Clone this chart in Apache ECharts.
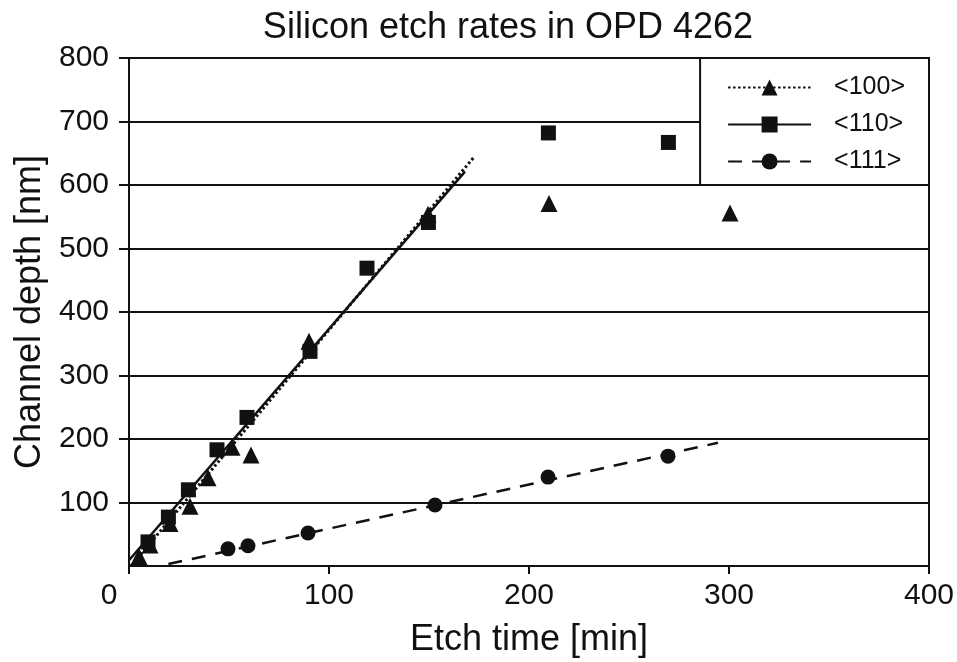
<!DOCTYPE html>
<html>
<head>
<meta charset="utf-8">
<script src="https://cdn.jsdelivr.net/npm/echarts@6/dist/echarts.min.js"></script>
<style>
html,body{margin:0;padding:0;background:#fff;}
#chart{width:957px;height:662px;}
</style>
</head>
<body>
<div id="chart"></div>
<script>
// ---- data ----
var seriesNames = ['<100>', '<110>', '<111>'];
var xTicks = [0, 100, 200, 300, 400];
var yTicks = [0, 100, 200, 300, 400, 500, 600, 700, 800];

var pts100 = [[5, 15], [10.5, 33], [20.5, 67], [30.5, 94], [39.5, 139], [51.5, 187], [61, 175], [90, 354], [149.5, 554], [210, 571], [300.5, 556]];
var pts110 = [[9.5, 38], [19.7, 77], [29.7, 120], [44, 183], [59, 234], [90.5, 338], [119, 469], [149.7, 541], [209.7, 682], [269.7, 667]];
var pts111 = [[49.5, 27], [59.5, 32], [89.5, 52], [153, 96], [209.5, 140], [269.5, 173]];

var fit100 = [[1, 0], [172.5, 644]];
var fit110 = [[0, 9], [168, 621]];
var fit111 = [[19.7, 3], [294.5, 194]];

var INK = '#111';
var FONT = '"Liberation Sans", Arial, Helvetica, sans-serif';

var chart = echarts.init(document.getElementById('chart'), null, {renderer: 'canvas'});

function fitSeries(name, data, symbol, lineType, width) {
  return {
    name: name, type: 'line', data: data,
    symbol: symbol, showSymbol: false, symbolSize: 15,
    itemStyle: {color: INK, opacity: 1},
    lineStyle: {color: INK, width: width, type: lineType},
    silent: true, animation: false, z: 3
  };
}
function ptSeries(name, data, symbol, size) {
  return {
    name: name, type: 'scatter', data: data,
    symbol: symbol, symbolSize: size,
    itemStyle: {color: INK, opacity: 1},
    animation: false, z: 4
  };
}

var option = {
  backgroundColor: '#fff',
  animation: false,
  title: {
    text: 'Silicon etch rates in OPD 4262',
    left: 503, top: 5, textAlign: 'center',
    textStyle: {fontFamily: FONT, fontSize: 36, fontWeight: 'normal', color: INK}
  },
  grid: {
    left: 129, right: 28, top: 58, bottom: 96,
    outerBoundsMode: 'none', containLabel: false,
    show: true, borderColor: INK, borderWidth: 2, backgroundColor: 'transparent'
  },
  legend: {
    data: seriesNames,
    orient: 'vertical',
    right: 28, top: 58,
    padding: [17, 24, 11, 27],
    itemGap: 12,
    itemWidth: 83, itemHeight: 20,
    backgroundColor: '#fff',
    borderColor: INK, borderWidth: 2,
    textStyle: {fontFamily: FONT, fontSize: 25, color: INK, padding: [0, 0, 0, 18]},
    z: 10
  },
  xAxis: {
    type: 'value', min: xTicks[0], max: xTicks[xTicks.length - 1], interval: 100,
    name: 'Etch time [min]', nameLocation: 'middle', nameGap: 56,
    nameTextStyle: {fontFamily: FONT, fontSize: 36, color: INK},
    axisLine: {show: true, onZero: false, lineStyle: {color: INK, width: 2}},
    axisTick: {show: true, length: 8, lineStyle: {color: INK, width: 2}},
    axisLabel: {
      fontFamily: FONT, fontSize: 30, color: INK, margin: 15,
      formatter: function (v) { return v === 0 ? '{z|0}' : String(v); },
      rich: {z: {fontFamily: FONT, fontSize: 30, color: INK, padding: [0, 40, 0, 0]}}
    },
    splitLine: {show: false}
  },
  yAxis: {
    type: 'value', min: yTicks[0], max: yTicks[yTicks.length - 1], interval: 100,
    name: 'Channel depth [nm]', nameLocation: 'middle', nameGap: 78, nameRotate: 90,
    nameTextStyle: {fontFamily: FONT, fontSize: 36, color: INK},
    axisLine: {show: true, onZero: false, lineStyle: {color: INK, width: 2}},
    axisTick: {show: true, length: 10, lineStyle: {color: INK, width: 2}},
    axisLabel: {fontFamily: FONT, fontSize: 30, color: INK, margin: 20, showMinLabel: false},
    splitLine: {show: true, lineStyle: {color: INK, width: 2}}
  },
  series: [
    fitSeries(seriesNames[0], fit100, 'triangle', [2.5, 2.5], 3),
    fitSeries(seriesNames[1], fit110, 'rect', 'solid', 2.5),
    fitSeries(seriesNames[2], fit111, 'circle', [14, 10], 2.5),
    ptSeries(seriesNames[0], pts100, 'triangle', 17),
    ptSeries(seriesNames[1], pts110, 'rect', 15),
    ptSeries(seriesNames[2], pts111, 'circle', 15)
  ]
};
chart.setOption(option);
</script>
</body>
</html>
